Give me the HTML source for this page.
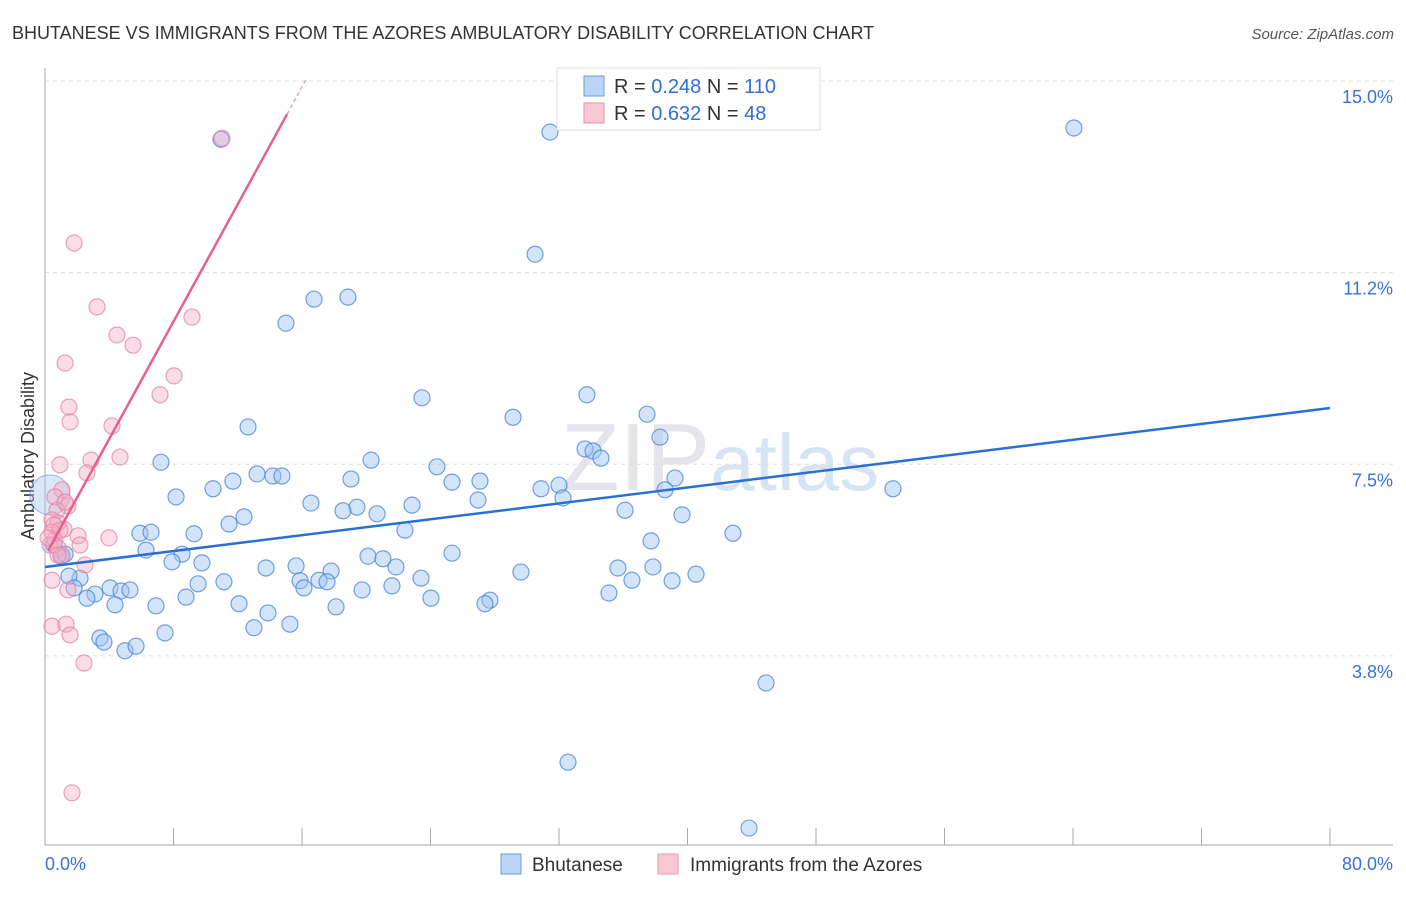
<!DOCTYPE html>
<html><head><meta charset="utf-8"><style>
body{margin:0;background:#fff;font-family:"Liberation Sans",sans-serif;}
svg text{font-family:"Liberation Sans",sans-serif;}
</style></head><body>
<svg id="chart" width="1406" height="892" viewBox="0 0 1406 892" xmlns="http://www.w3.org/2000/svg">
<text x="12" y="39" font-size="18" fill="#333">BHUTANESE VS IMMIGRANTS FROM THE AZORES AMBULATORY DISABILITY CORRELATION CHART</text>
<text x="1394" y="39" font-size="15" fill="#555" font-style="italic" text-anchor="end">Source: ZipAtlas.com</text>
<text x="720" y="490" font-size="96" fill="#e4e4ea" text-anchor="middle" font-family="Liberation Serif">ZIP<tspan fill="#d6e4f3" font-family="Liberation Sans" font-size="80">atlas</tspan></text>
<text transform="translate(34,456) rotate(-90)" font-size="18" fill="#333" text-anchor="middle">Ambulatory Disability</text>
<g id="grid"></g>
<g id="axes"></g>
<g id="points"></g>
<g id="lines"></g>
<g>
<rect x="557" y="68" width="263" height="62" fill="#fff" stroke="#ddd"/>
<rect x="584" y="76" width="20" height="20" fill="#bcd5f5" stroke="#6a9be0"/>
<text x="614" y="93" font-size="20" fill="#333">R = <tspan fill="#2f6fd6">0.248</tspan>   N = <tspan fill="#2f6fd6">110</tspan></text>
<rect x="584" y="103" width="20" height="20" fill="#f8c8d6" stroke="#e890aa"/>
<text x="614" y="120" font-size="20" fill="#333">R = <tspan fill="#2f6fd6">0.632</tspan>   N = <tspan fill="#2f6fd6"> 48</tspan></text>
</g>
<g>
<rect x="501" y="854" width="20" height="20" fill="#bcd5f5" stroke="#6a9be0"/>
<text x="532" y="871" font-size="19" fill="#333">Bhutanese</text>
<rect x="658" y="854" width="20" height="20" fill="#f8c8d6" stroke="#e890aa"/>
<text x="690" y="871" font-size="19" fill="#333">Immigrants from the Azores</text>
</g>
</svg>
<script>
const yTicks=[3.8,7.5,11.2,15.0];
const yTickVals=[3.75,7.5,11.25,15.0];
const xTickLabels=["0.0%","80.0%"];
const bluePx=[[221,139],[550,132],[1074,128],[535,254],[314,299],[348,297],[286,323],[587,395],[422,398],[513,417],[647,414],[248,427],[660,437],[585,449],[593,451],[601,458],[161,462],[371,460],[437,467],[257,474],[273,476],[282,476],[233,481],[351,479],[452,482],[480,481],[675,478],[559,485],[541,489],[563,498],[665,490],[893,489],[176,497],[213,489],[311,503],[357,507],[412,505],[478,500],[343,511],[377,514],[244,517],[229,524],[625,510],[682,515],[405,530],[140,533],[151,532],[194,534],[733,533],[651,541],[146,550],[182,554],[452,553],[368,556],[383,559],[61,556],[65,554],[54,545],[172,562],[202,563],[266,568],[296,566],[331,571],[396,567],[521,572],[618,568],[653,567],[696,574],[80,578],[69,576],[300,581],[319,580],[327,582],[421,578],[632,580],[672,581],[224,582],[198,584],[110,588],[121,591],[130,590],[74,588],[95,594],[87,598],[304,588],[362,590],[392,586],[609,593],[186,597],[431,598],[490,600],[485,604],[115,605],[156,606],[239,604],[268,613],[336,607],[254,628],[290,624],[165,633],[100,638],[104,642],[125,651],[136,646],[766,683],[568,762],[749,828]];
const pinkPx=[[222,138],[74,243],[97,307],[192,317],[117,335],[133,345],[65,363],[174,376],[160,395],[69,407],[70,422],[112,426],[60,465],[91,460],[120,457],[87,473],[62,490],[55,497],[68,506],[57,510],[52,520],[58,523],[64,529],[52,532],[78,536],[109,538],[55,540],[80,545],[50,545],[58,548],[62,555],[85,565],[52,580],[68,590],[52,626],[66,624],[70,635],[84,663],[72,793],[58,555],[60,530],[54,525],[48,538],[65,502]];
// convert read positions to data values (x in %, y in %)
const blueX=bluePx.map(p=>+((p[0]-45)*80/1285).toFixed(2));
const blueY=bluePx.map(p=>+(15-(p[1]-81)/51.1).toFixed(2));
const pinkX=pinkPx.map(p=>+((p[0]-45)*80/1285).toFixed(2));
const pinkY=pinkPx.map(p=>+(15-(p[1]-81)/51.1).toFixed(2));
const blueTrend=[5.49,8.60];
const pinkTrend=[5.70,0.574];
const NS="http://www.w3.org/2000/svg";
const xs=v=>45+v*1285/80, ys=v=>81+(15-v)*51.1;
function mk(t,a,parent){const e=document.createElementNS(NS,t);for(const k in a)e.setAttribute(k,a[k]);document.getElementById(parent).appendChild(e);return e;}
yTickVals.forEach((v,i)=>{
 const l=mk('line',{x1:45,x2:1393,y1:ys(v),y2:ys(v),stroke:'#ddd','stroke-dasharray':'4,4'},'grid');
 
 
 const t=mk('text',{x:1393,y:ys(v)+22,'font-size':18,fill:'#3a72d8','text-anchor':'end'},'grid');
 t.textContent=yTicks[i].toFixed(1)+'%';
 
 
});
const ax=mk('line',{x1:45,x2:45,y1:68,y2:845,stroke:'#aaa'},'axes');


const bx=mk('line',{x1:45,x2:1393,y1:845,y2:845,stroke:'#aaa'},'axes');


for(let i=1;i<=10;i++){const tk=mk('line',{x1:xs(i*8),x2:xs(i*8),y1:828,y2:845,stroke:'#aaa'},'axes');
 
 }
const xl0=mk('text',{x:45,y:870,'font-size':18,fill:'#3a72d8'},'axes');xl0.textContent=xTickLabels[0];


const xl1=mk('text',{x:1393,y:870,'font-size':18,fill:'#3a72d8','text-anchor':'end'},'axes');xl1.textContent=xTickLabels[1];


const big=mk('circle',{cx:xs(0.3),cy:ys(6.9),r:20,fill:'rgba(160,195,240,0.4)',stroke:'rgba(90,140,220,0.6)'},'points');


blueX.forEach((x,i)=>{const c=mk('circle',{cx:xs(x),cy:ys(blueY[i]),r:8,fill:'rgba(160,195,240,0.45)',stroke:'rgba(70,130,220,0.75)','stroke-width':1.2},'points');
 
 });
pinkX.forEach((x,i)=>{const c=mk('circle',{cx:xs(x),cy:ys(pinkY[i]),r:8,fill:'rgba(245,170,195,0.4)',stroke:'rgba(230,130,165,0.75)','stroke-width':1.2},'points');
 
 });
const bl=mk('line',{x1:xs(0),y1:ys(blueTrend[0]),x2:xs(80),y2:ys(blueTrend[1]),stroke:'#2a6fd6','stroke-width':2.5},'lines');


const pf=x=>pinkTrend[0]+pinkTrend[1]*x;
const pl=mk('line',{x1:xs(0.2),y1:ys(pf(0.2)),x2:xs(15.07),y2:ys(pf(15.07)),stroke:'#e8608e','stroke-width':2.5},'lines');


const pd=mk('line',{x1:xs(15.07),y1:ys(pf(15.07)),x2:xs(16.3),y2:ys(pf(16.3)),stroke:'#e8a0b8','stroke-width':1.5,'stroke-dasharray':'4,3'},'lines');


</script>
</body></html>
